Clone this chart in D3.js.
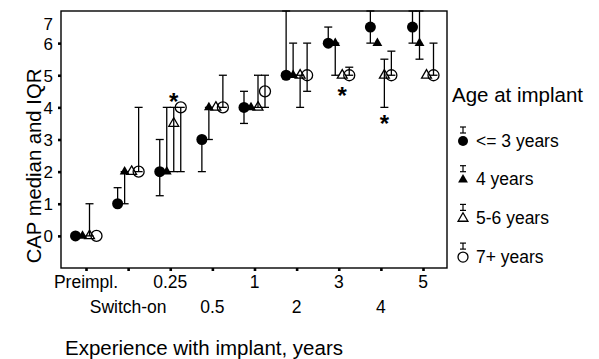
<!DOCTYPE html>
<html>
<head>
<meta charset="utf-8">
<script src="https://cdn.jsdelivr.net/npm/d3@7"></script>
<style>
  html, body { margin: 0; padding: 0; background: #fff; }
  svg { display: block; font-family: "Liberation Sans", Arial, Helvetica, sans-serif; }
</style>
</head>
<body>
<svg id="chart" width="599" height="359"></svg>
<script>
// ---- data ----
const categories = ["Preimpl.", "Switch-on", "0.25", "0.5", "1", "2", "3", "4", "5"];
const seriesNames = ["<= 3 years", "4 years", "5-6 years", "7+ years"];
const yTicks = [0, 1, 2, 3, 4, 5, 6, 7];

const le3Median = [0, 1, 2, 3, 4, 5, 6, 6.5, 6.5];
const le3Low    = [0, 1, 1.25, 2, 3.5, 5, 6, 6, 6];
const le3High   = [0, 1.5, 3, 3, 4.5, 7, 6.5, 7, 7];

const y4Median  = [0, 2, 2, 4, 4, 5, 6, 6, 6];
const y4Low     = [0, 1, 2, 3, 4, 5, 5, 6, 5.5];
const y4High    = [0, 2, 4, 4, 4, 6, 6, 6, 7];

const y56Median = [0, 2, 3.5, 4, 4, 5, 5, 5, 5];
const y56Low    = [0, 2, 2, 4, 4, 4, 5, 4, 5];
const y56High   = [1, 2, 4, 4, 5, 5, 5, 5.5, 5];

const y7Median  = [0, 2, 4, 4, 4.5, 5, 5, 5, 5];
const y7Low     = [0, 2, 2, 4, 4, 4.5, 5, 5, 5];
const y7High    = [0, 4, 4, 5, 5, 6, 5.25, 5.75, 6];

// significance markers (category, value) on the 5-6 years series
const asteriskCats   = ["0.25", "3", "4"];
const asteriskValues = [4.35, 4.55, 3.68];

// ---- build table ----
const medians = [le3Median, y4Median, y56Median, y7Median];
const lows    = [le3Low, y4Low, y56Low, y7Low];
const highs   = [le3High, y4High, y56High, y7High];
const points = [];
seriesNames.forEach((s, si) => {
  categories.forEach((c, ci) => {
    points.push({ series: s, si, cat: c, med: medians[si][ci], lo: lows[si][ci], hi: highs[si][ci] });
  });
});

// ---- layout ----
const svg = d3.select("#chart");
const frame = { left: 61, right: 447, top: 11, bottom: 268 };

const x = d3.scalePoint().domain(categories).range([86, 423]);
const dx = d3.scalePoint().domain(seriesNames).range([-10.5, 10.5]);
const y = d3.scaleLinear().domain([-1, 7]).range([frame.bottom, frame.top]);

const font = '"Liberation Sans", Arial, Helvetica, sans-serif';

// y axis ticks
const yAxis = d3.axisLeft(y).tickValues(yTicks).tickSize(3).tickPadding(5).tickFormat(d3.format("d"));
const gy = svg.append("g").attr("transform", `translate(${frame.left},0)`).call(yAxis);
gy.select(".domain").remove();
gy.selectAll(".tick line").attr("stroke-width", 2.6).filter(d => d === 7).remove();
gy.selectAll(".tick text").attr("font-size", 17).attr("font-family", font).attr("fill", "#000")
  .attr("dy", d => d === 7 ? "1.1em" : "0.35em");

// x axis ticks
const xAxis = d3.axisBottom(x).tickSize(3).tickFormat("");
const gx = svg.append("g").attr("transform", `translate(0,${frame.bottom})`).call(xAxis);
gx.select(".domain").remove();
gx.selectAll(".tick line").attr("stroke-width", 2.6);

// x labels, two staggered rows
svg.append("g").selectAll("text").data(categories).join("text")
  .attr("x", d => x(d))
  .attr("y", (d, i) => i % 2 === 0 ? 288 : 313)
  .attr("text-anchor", "middle")
  .attr("font-size", 17.5)
  .attr("font-family", font)
  .text(d => d);

// axis titles
svg.append("text")
  .attr("x", 204).attr("y", 355)
  .attr("text-anchor", "middle").attr("font-size", 20.5).attr("font-family", font)
  .text("Experience with implant, years");
svg.append("text")
  .attr("transform", "translate(41,166) rotate(-90)")
  .attr("text-anchor", "middle").attr("font-size", 20.3).attr("font-family", font)
  .text("CAP median and IQR");

// symbols
const tri = d3.symbol().type(d3.symbolTriangle).size(42)();
function drawMarker(g, si, r) {
  if (si === 0) g.append("circle").attr("r", r).attr("fill", "#000");
  else if (si === 1) g.append("path").attr("d", tri).attr("fill", "#000");
  else if (si === 2) g.append("path").attr("d", tri).attr("fill", "none").attr("stroke", "#000").attr("stroke-width", 1.3);
  else g.append("circle").attr("r", r).attr("fill", "none").attr("stroke", "#000").attr("stroke-width", 1.3);
}

// error bars
const cap = 4;
const bars = svg.append("g").attr("stroke", "#000").attr("stroke-width", 1.3);
points.filter(p => p.hi > p.lo).forEach(p => {
  const px = x(p.cat) + dx(p.series);
  bars.append("line").attr("x1", px).attr("x2", px).attr("y1", y(p.lo)).attr("y2", y(p.hi));
  bars.append("line").attr("x1", px - cap).attr("x2", px + cap).attr("y1", y(p.lo)).attr("y2", y(p.lo));
  bars.append("line").attr("x1", px - cap).attr("x2", px + cap).attr("y1", y(p.hi)).attr("y2", y(p.hi));
});

// markers
points.forEach(p => {
  const g = svg.append("g").attr("transform", `translate(${x(p.cat) + dx(p.series)},${y(p.med)})`);
  drawMarker(g, p.si, 5.5);
});

// frame
svg.append("rect")
  .attr("x", frame.left).attr("y", frame.top)
  .attr("width", frame.right - frame.left).attr("height", frame.bottom - frame.top)
  .attr("fill", "none").attr("stroke", "#000").attr("stroke-width", 1.4);

// asterisks
svg.append("g").selectAll("text").data(asteriskCats).join("text")
  .attr("x", d => x(d) + dx("5-6 years"))
  .attr("y", (d, i) => y(asteriskValues[i]))
  .attr("dy", "0.58em")
  .attr("text-anchor", "middle")
  .attr("font-size", 24)
  .attr("font-weight", "bold")
  .attr("font-family", font)
  .text("*");

// legend
svg.append("text").attr("x", 452).attr("y", 102)
  .attr("font-size", 20.5).attr("font-family", font).text("Age at implant");
seriesNames.forEach((s, i) => {
  const cy = 141 + i * 38.7;
  const g = svg.append("g").attr("transform", `translate(463,${cy})`);
  const ig = g.append("g").attr("stroke", "#000").attr("stroke-width", 1.2);
  ig.append("line").attr("x1", 0).attr("x2", 0).attr("y1", -14).attr("y2", -8);
  ig.append("line").attr("x1", -3).attr("x2", 3).attr("y1", -14).attr("y2", -14);
  ig.append("line").attr("x1", -3).attr("x2", 3).attr("y1", -8).attr("y2", -8);
  drawMarker(g, i, 5);
  svg.append("text").attr("x", 476).attr("y", cy + 5.5)
    .attr("font-size", 17.5).attr("font-family", font).text(s);
});
</script>
</body>
</html>
